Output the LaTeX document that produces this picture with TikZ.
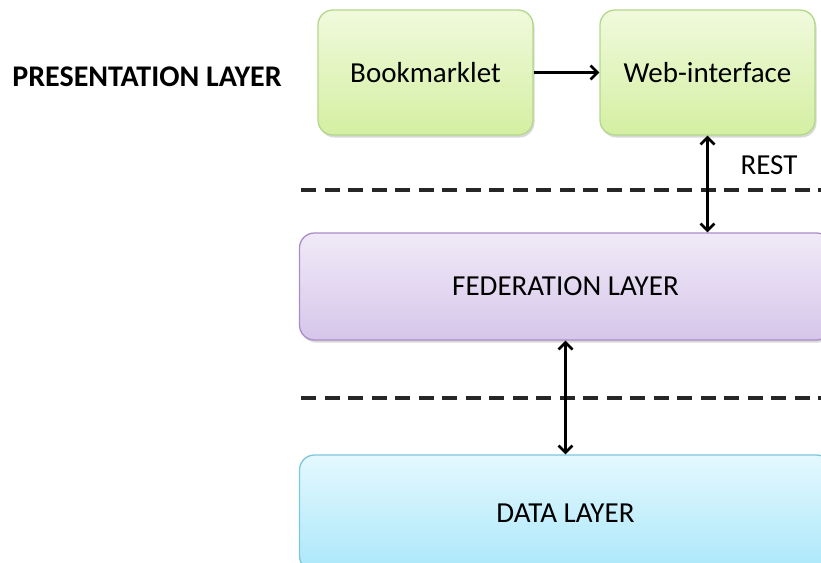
\documentclass[tikz,border=0pt]{standalone}
\usepackage{fontspec}
\setmainfont{Carlito}
\usetikzlibrary{arrows.meta,shadows}
\definecolor{grnTop}{HTML}{F0FADC}
\definecolor{grnBot}{HTML}{D4EFA2}
\definecolor{grnLine}{HTML}{B3D88A}
\definecolor{purTop}{HTML}{F0EAF7}
\definecolor{purBot}{HTML}{D6C6EA}
\definecolor{purLine}{HTML}{A98CC9}
\definecolor{bluTop}{HTML}{E4F8FE}
\definecolor{bluBot}{HTML}{ABE8FA}
\definecolor{bluLine}{HTML}{7CC6DE}
\tikzset{
  x=1pt, y=-1pt,
  labelfont/.style={font=\fontsize{29}{34}\selectfont},
  layerbox/.style={rounded corners=15pt, line width=1.3pt, align=center, labelfont,
    text depth=0pt,
    drop shadow={shadow xshift=1.5pt, shadow yshift=-2.5pt, fill=black!30, opacity=.5}},
  greenbox/.style={layerbox, draw=grnLine, top color=grnTop, bottom color=grnBot},
  purplebox/.style={layerbox, draw=purLine, top color=purTop, bottom color=purBot},
  bluebox/.style={layerbox, draw=bluLine, top color=bluTop, bottom color=bluBot},
  divider/.style={line width=3.2pt, dash pattern=on 15pt off 8.5pt, black!85},
  link/.style={line width=2.6pt, -{Straight Barb[length=7pt,width=14pt,line width=2.6pt]}},
  biglink/.style={line width=2.6pt, {Straight Barb[length=7pt,width=14pt,line width=2.6pt]}-{Straight Barb[length=7pt,width=14pt,line width=2.6pt]}}
}
\begin{document}
\begin{tikzpicture}
\useasboundingbox (0,0) rectangle (821,562);
\clip (0,0) rectangle (821,562);

% layer separators
\draw[divider] (301,190) -- (830,190);
\draw[divider] (301,398) -- (830,398);

% presentation layer
\node[font=\fontsize{30}{35}\selectfont\bfseries] (pres) at (147,77) {PRESENTATION LAYER};
\node[greenbox, minimum width=215pt, minimum height=125pt] (book) at (425.5,72.5) {Bookmarklet};
\node[greenbox, minimum width=215pt, minimum height=125pt] (web) at (707.5,72.5) {Web-interface};

% federation and data layers
\node[purplebox, minimum width=532pt, minimum height=107pt] (fed) at (565.5,286.5) {FEDERATION LAYER};
\node[bluebox, minimum width=532pt, minimum height=116pt] (data) at (565.5,513) {DATA LAYER};

% connectors
\draw[link] (book.east) -- (web.west);
\draw[biglink] (web.south) -- (web.south |- fed.north);
\draw[biglink] (fed.south) -- (data.north);
\node[labelfont] (rest) at (769,165) {REST};
\end{tikzpicture}
\end{document}
